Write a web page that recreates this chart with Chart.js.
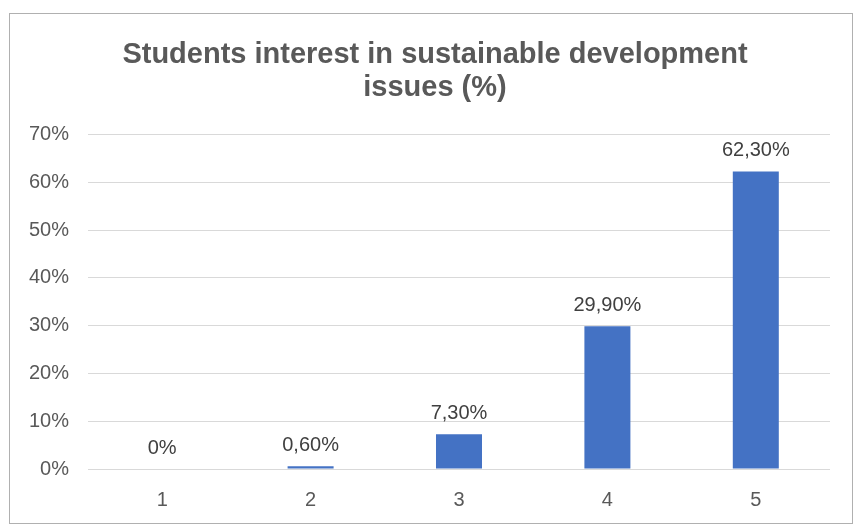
<!DOCTYPE html>
<html>
<head>
<meta charset="utf-8">
<script src="https://cdn.jsdelivr.net/npm/chart.js@4.4.0/dist/chart.umd.min.js"></script>
<style>
    html, body { margin: 0; padding: 0; background: #fff; }
    #frame {
        position: absolute; left: 9px; top: 13px;
        width: 842px; height: 509px;
        border: 1px solid #b0b0b0;
    }
    canvas { display: block; }
</style>
</head>
<body>
<div id="frame"><canvas id="chart" width="842" height="509"></canvas></div>
<script>
// chart data
const categories = ['1', '2', '3', '4', '5'];
const interest = [0, 0.6, 7.3, 29.9, 62.3];
const titleLines = ['Students interest in sustainable development', 'issues (%)'];
const yMax = 70;
const yStep = 10;

function fmtPct(v) {
    if (v === 0) return '0%';
    return v.toFixed(2).replace('.', ',') + '%';
}

// draws the value labels above each bar
const valueLabels = {
    id: 'valueLabels',
    afterDatasetsDraw(chart) {
        const ctx = chart.ctx;
        const meta = chart.getDatasetMeta(0);
        ctx.save();
        ctx.font = '20px "Liberation Sans", Arial, sans-serif';
        ctx.fillStyle = '#404040';
        ctx.textAlign = 'center';
        ctx.textBaseline = 'alphabetic';
        meta.data.forEach((bar, i) => {
            ctx.fillText(fmtPct(interest[i]), bar.x, bar.y - 15);
        });
        ctx.restore();
    }
};

// title in the original sits a bit right of the plot centre
const titleCentre = {
    id: 'titleCentre',
    afterLayout(chart) {
        if (chart.titleBlock) chart.titleBlock.right = chart.width + 8;
    }
};

window.addEventListener('DOMContentLoaded', () => {
    const ctx = document.getElementById('chart').getContext('2d');
    new Chart(ctx, {
        type: 'bar',
        data: {
            labels: categories,
            datasets: [{
                data: interest,
                backgroundColor: '#4472c4',
                barPercentage: 0.31,
                categoryPercentage: 1
            }]
        },
        options: {
            responsive: false,
            animation: false,
            layout: { padding: { left: 0, right: 22, top: 0, bottom: 0 } },
            plugins: {
                legend: { display: false },
                tooltip: { enabled: false },
                title: {
                    display: true,
                    text: titleLines,
                    color: '#595959',
                    font: { family: '"Liberation Sans", Arial, sans-serif', size: 29, weight: 'bold', lineHeight: 1.15 },
                    padding: { top: 24, bottom: 30 }
                }
            },
            scales: {
                x: {
                    grid: { display: false, drawTicks: false },
                    border: { display: false },
                    ticks: {
                        color: '#595959',
                        padding: 19,
                        font: { family: '"Liberation Sans", Arial, sans-serif', size: 20 }
                    },
                    afterFit(scale) { scale.height = 54; }
                },
                y: {
                    min: 0,
                    max: yMax,
                    grid: { color: '#d9d9d9', lineWidth: 1, drawTicks: false },
                    border: { display: false },
                    ticks: {
                        stepSize: yStep,
                        color: '#595959',
                        padding: 19,
                        font: { family: '"Liberation Sans", Arial, sans-serif', size: 20 },
                        callback: v => v + '%'
                    },
                    afterFit(scale) { scale.width = 78; }
                }
            }
        },
        plugins: [valueLabels, titleCentre]
    });
});
</script>
</body>
</html>
